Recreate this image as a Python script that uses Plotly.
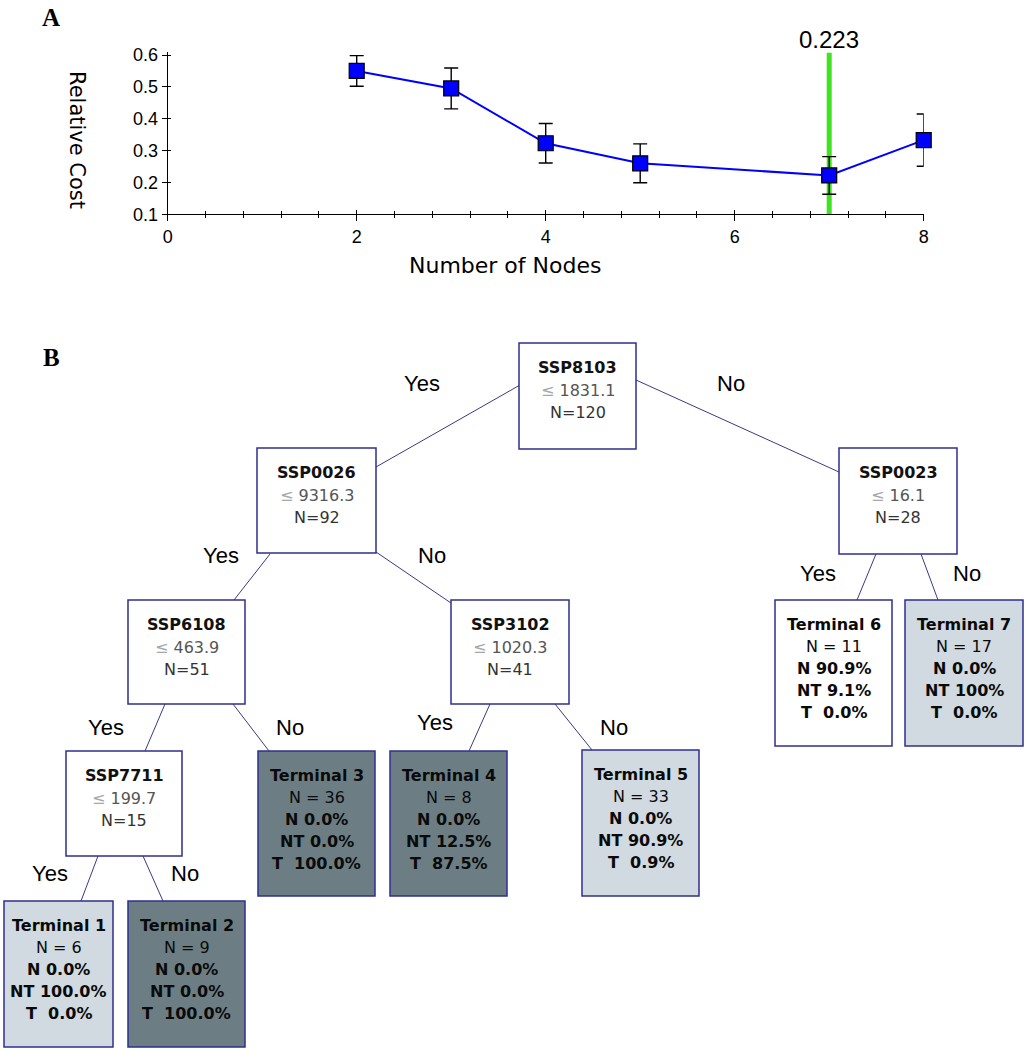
import plotly.graph_objects as go

# ---------------- Panel A data ----------------
num_nodes = [2, 3, 4, 5, 7, 8]
relative_cost = [0.55, 0.495, 0.323, 0.26, 0.222, 0.333]
cost_error = [0.048, 0.064, 0.062, 0.061, 0.059, 0.082]
optimal_nodes = 7
optimal_label = "0.223"
x_ticks = [0, 2, 4, 6, 8]
y_ticks = [0.1, 0.2, 0.3, 0.4, 0.5, 0.6]

# ---------------- Panel B data ----------------
split_vars = ["SSP8103", "SSP0026", "SSP0023", "SSP6108", "SSP3102", "SSP7711"]
split_thresholds = ["1831.1", "9316.3", "16.1", "463.9", "1020.3", "199.7"]
split_n = [120, 92, 28, 51, 41, 15]

terminal_names = ["Terminal 1", "Terminal 2", "Terminal 3", "Terminal 4",
                  "Terminal 5", "Terminal 6", "Terminal 7"]
terminal_n = [6, 9, 36, 8, 33, 11, 17]
terminal_pct_N = ["0.0%", "0.0%", "0.0%", "0.0%", "0.0%", "90.9%", "0.0%"]
terminal_pct_NT = ["100.0%", "0.0%", "0.0%", "12.5%", "90.9%", "9.1%", "100%"]
terminal_pct_T = ["0.0%", "100.0%", "100.0%", "87.5%", "0.9%", "0.0%", "0.0%"]
branch_labels = ["Yes", "No"]

# ---------------- Layout geometry (pixels) ----------------
W, H = 1026, 1050


def px(x):
    return x / W


def py(y):
    return 1 - y / H


# split node boxes: x0, x1, y0, y1
split_boxes = [
    (519, 636, 343, 449),
    (257, 376, 448, 553),
    (839, 957, 448, 554),
    (128, 245, 600, 704),
    (451, 569, 600, 704),
    (66, 182, 751, 856),
]
terminal_boxes = [
    (4, 113, 901, 1047),
    (128, 245, 901, 1047),
    (258, 375, 751, 896),
    (390, 507, 751, 896),
    (582, 699, 750, 896),
    (775, 892, 600, 746),
    (905, 1023, 600, 746),
]
DARK = "#6c7e84"
LIGHT = "#d0dae0"
terminal_fill = [LIGHT, DARK, DARK, DARK, LIGHT, "white", LIGHT]

edges = [
    ((520, 385), (376, 467)),
    ((636, 380), (839, 472)),
    ((270, 554), (234, 600)),
    ((376, 552), (451, 603)),
    ((165, 704), (145, 751)),
    ((233, 704), (269, 751)),
    ((490, 704), (469, 751)),
    ((555, 704), (592, 750)),
    ((98, 856), (81, 901)),
    ((143, 856), (163, 901)),
    ((876, 554), (857, 600)),
    ((921, 554), (938, 600)),
]
# (yes position, no position) for each split
branch_pos = [
    ((422, 383), (731, 384)),
    ((221, 555), (432, 555)),
    ((818, 573), (967, 573)),
    ((106, 727), (290, 727)),
    ((435, 722), (614, 727)),
    ((50, 873), (185, 873)),
]

fig = go.Figure()

# ---------------- Panel A ----------------
fig.add_trace(go.Scatter(
    x=num_nodes, y=relative_cost, mode="lines+markers",
    line=dict(color="#0000ff", width=2),
    marker=dict(symbol="square", size=15, color="#0000ff",
                line=dict(color="black", width=1.2)),
    error_y=dict(type="data", array=cost_error, color="black",
                 thickness=1.4, width=7),
    cliponaxis=False, showlegend=False, hoverinfo="x+y",
))
# helper overlay axis for crossing ticks
fig.add_trace(go.Scatter(x=[None], y=[None], xaxis="x3", yaxis="y3",
                         showlegend=False, hoverinfo="skip"))

x_dom = [167.7 / W, 923.7 / W]
y_dom = [py(214.3), py(52.45)]
sans = "Arial, Liberation Sans, sans-serif"
dejavu = "DejaVu Sans, Verdana, sans-serif"
tickfont = dict(family=sans, size=18, color="black")

fig.update_layout(
    xaxis=dict(domain=x_dom, range=[0, 8], tickvals=x_ticks, ticks="outside",
               ticklen=6, tickwidth=1.2, tickcolor="black", showline=True,
               linecolor="black", linewidth=1.2, showgrid=False, zeroline=False,
               tickfont=tickfont, automargin=False, anchor="y",
               minor=dict(dtick=0.4, tick0=0, ticks="outside", ticklen=3,
                          tickwidth=1, tickcolor="black", showgrid=False)),
    yaxis=dict(domain=y_dom, range=[0.1, 0.608], tickvals=y_ticks,
               ticktext=[f"{v:.1f}" for v in y_ticks], ticks="outside",
               ticklen=5, tickwidth=1.2, tickcolor="black", showline=True,
               linecolor="black", linewidth=1.2, showgrid=False, zeroline=False,
               tickfont=tickfont, automargin=False, anchor="x"),
    xaxis3=dict(overlaying="x", anchor="y", range=[0, 8], tickvals=x_ticks,
                ticks="inside", ticklen=4, tickwidth=1.2, tickcolor="black",
                showticklabels=False, showline=False, showgrid=False,
                zeroline=False, automargin=False,
                minor=dict(dtick=0.4, tick0=0, ticks="inside", ticklen=3,
                           tickwidth=1, tickcolor="black", showgrid=False)),
    yaxis3=dict(overlaying="y", anchor="x", range=[0.1, 0.608], tickvals=y_ticks,
                ticks="inside", ticklen=3, tickwidth=1.2, tickcolor="black",
                showticklabels=False, showline=False, showgrid=False,
                zeroline=False, automargin=False),
)

# green optimum line
fig.add_shape(type="line", xref="x", yref="y", x0=optimal_nodes, x1=optimal_nodes,
              y0=0.1, y1=0.608, line=dict(color="#3fe31f", width=5), layer="below")


def paper_text(x, y, text, font, xref="paper", textangle=0):
    fig.add_annotation(x=x, y=y, xref=xref, yref="paper", text=text,
                       showarrow=False, xanchor="center", yanchor="middle",
                       textangle=textangle, font=font)


serif = "Times New Roman, Liberation Serif, serif"
paper_text(optimal_nodes, py(39), optimal_label,
           dict(family=sans, size=24, color="black"), xref="x")
paper_text(px(505), py(265), "Number of Nodes",
           dict(family=dejavu, size=22, color="black"))
paper_text(px(77), py(140), "Relative Cost",
           dict(family=dejavu, size=21, color="black"), textangle=90)
paper_text(px(51), py(17), "<b>A</b>", dict(family=serif, size=25, color="black"))
paper_text(px(51), py(357), "<b>B</b>", dict(family=serif, size=25, color="black"))

# ---------------- Panel B: tree ----------------
BORDER = "#2f2f8f"
EDGE = "#3a3a80"

for (x0, y0), (x1, y1) in edges:
    fig.add_shape(type="line", xref="paper", yref="paper",
                  x0=px(x0), y0=py(y0), x1=px(x1), y1=py(y1),
                  line=dict(color=EDGE, width=1))

node_font = 16


def add_text(x, y, text, bold=False, color="#222222", size=node_font, family=dejavu):
    if bold:
        text = f"<b>{text}</b>"
    paper_text(px(x), py(y), text, dict(family=family, size=size, color=color))


for i, (x0, x1, y0, y1) in enumerate(split_boxes):
    fig.add_shape(type="rect", xref="paper", yref="paper",
                  x0=px(x0), x1=px(x1), y0=py(y0), y1=py(y1),
                  fillcolor="white", line=dict(color=BORDER, width=1.5))
    cx = (x0 + x1) / 2
    add_text(cx, y0 + 24, split_vars[i], bold=True, color="#111111")
    add_text(cx, y0 + 47,
             f"<span style='color:#a8a8a8'>≤</span> {split_thresholds[i]}",
             color="#555555")
    add_text(cx, y0 + 69, f"N={split_n[i]}", color="#333333")
    (yx, yy), (nx, ny) = branch_pos[i]
    add_text(yx, yy, branch_labels[0], color="black", size=22, family=sans)
    add_text(nx, ny, branch_labels[1], color="black", size=22, family=sans)

NB = "\u00a0"
for i, (x0, x1, y0, y1) in enumerate(terminal_boxes):
    fig.add_shape(type="rect", xref="paper", yref="paper",
                  x0=px(x0), x1=px(x1), y0=py(y0), y1=py(y1),
                  fillcolor=terminal_fill[i], line=dict(color=BORDER, width=1.5))
    cx = (x0 + x1) / 2
    col = "#0a0a0a"
    add_text(cx, y0 + 24, terminal_names[i], bold=True, color=col)
    add_text(cx, y0 + 46, f"N = {terminal_n[i]}", color=col)
    add_text(cx, y0 + 68, f"N {terminal_pct_N[i]}", bold=True, color=col)
    add_text(cx, y0 + 90, f"NT {terminal_pct_NT[i]}", bold=True, color=col)
    add_text(cx, y0 + 112, f"T {NB}{terminal_pct_T[i]}", bold=True, color=col)

fig.update_layout(
    width=W, height=H, template="none",
    margin=dict(l=0, r=0, t=0, b=0, pad=0),
    paper_bgcolor="white", plot_bgcolor="rgba(0,0,0,0)",
    showlegend=False,
)

fig.write_html("out.html", config={"displayModeBar": False},
               post_script="document.body.style.margin='0';document.body.style.overflow='hidden';")
